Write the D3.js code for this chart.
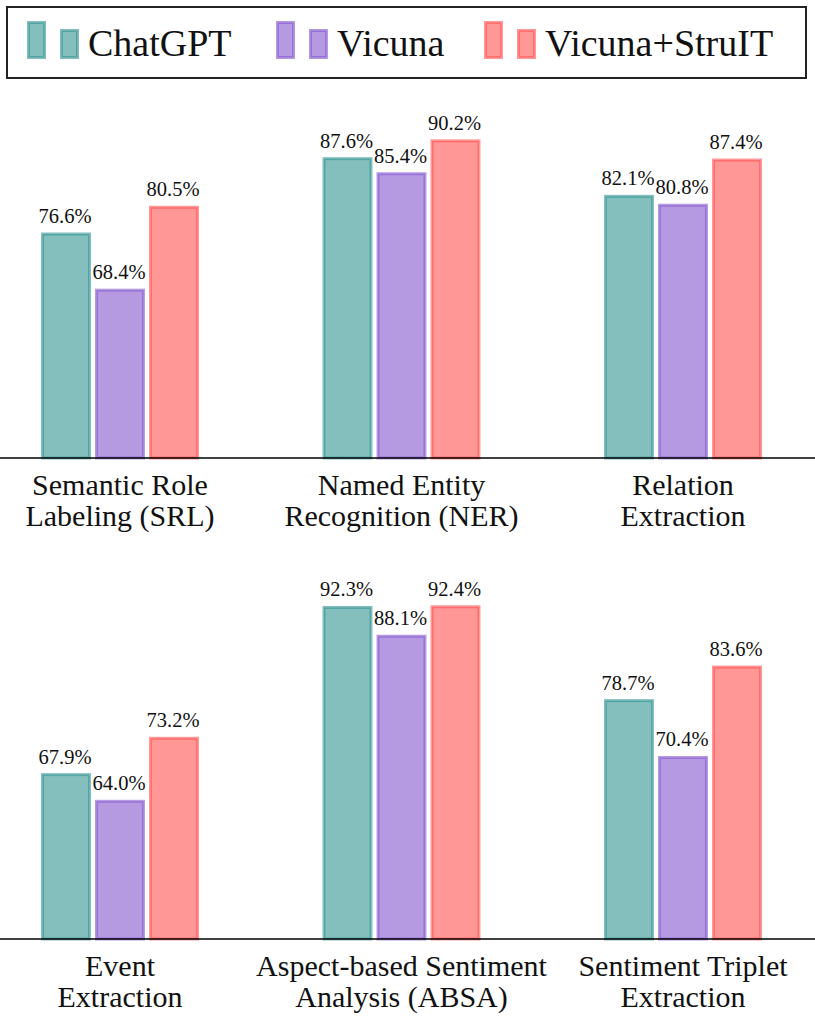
<!DOCTYPE html>
<html>
<head>
<meta charset="utf-8">
<script src="https://cdn.jsdelivr.net/npm/d3@7"></script>
<style>
  body { margin: 0; background: #fff; }
</style>
</head>
<body>
<div id="chart"></div>
<script>
// Data
const models = ["ChatGPT", "Vicuna", "Vicuna+StruIT"];
const tasks = [
  "Semantic Role\nLabeling (SRL)",
  "Named Entity\nRecognition (NER)",
  "Relation\nExtraction",
  "Event\nExtraction",
  "Aspect-based Sentiment\nAnalysis (ABSA)",
  "Sentiment Triplet\nExtraction"
];
const chatgpt = [76.6, 87.6, 82.1, 67.9, 92.3, 78.7];
const vicuna = [68.4, 85.4, 80.8, 64.0, 88.1, 70.4];
const struit = [80.5, 90.2, 87.4, 73.2, 92.4, 83.6];
const colors = ["#329493", "#8457cf", "#ff5252"];

const series = [chatgpt, vicuna, struit];

const width = 815;
const height = 1022;
const baselines = [458, 939];
const serif = '"Liberation Serif"';

const svg = d3.create("svg")
  .attr("width", width)
  .attr("height", height)
  .style("display", "block");

// Outer band scale: 3 tasks per row
const x0 = d3.scaleBand([0, 1, 2], [-20.75, 823.75]);
// Inner band scale: models within a task
const x1 = d3.scaleBand(models, [-81, 81]).paddingInner(0.13).paddingOuter(0.065);

baselines.forEach((base, row) => {
  const y = d3.scaleLinear([43.9, 100], [base, base - 56.1 * 6.85]);
  const g = svg.append("g");

  for (let c = 0; c < 3; c++) {
    const t = row * 3 + c;
    const cx = x0(c) + x0.bandwidth() / 2;

    models.forEach((m, i) => {
      const v = series[i][t];
      const bx = cx + x1(m);
      g.append("rect")
        .attr("x", bx)
        .attr("y", y(v))
        .attr("width", x1.bandwidth())
        .attr("height", base - y(v))
        .attr("fill", colors[i])
        .attr("fill-opacity", 0.6)
        .attr("stroke", colors[i])
        .attr("stroke-opacity", 0.6)
        .attr("stroke-width", 3);

      g.append("text")
        .attr("x", bx + x1.bandwidth() / 2 - 1)
        .attr("y", y(v) - 11)
        .attr("text-anchor", "middle")
        .style("font-family", serif)
        .attr("font-size", 20.5)
        .attr("fill", "#111")
        .text(v.toFixed(1) + "%");
    });

    // task label (two lines)
    const lines = tasks[t].split("\n");
    lines.forEach((ln, k) => {
      g.append("text")
        .attr("x", cx)
        .attr("y", base + 37 + k * 31)
        .attr("text-anchor", "middle")
        .style("font-family", serif)
        .attr("font-size", 30)
        .attr("fill", "#111")
        .text(ln);
    });
  }

  // x axis line
  g.append("line")
    .attr("x1", 0).attr("x2", width)
    .attr("y1", base).attr("y2", base)
    .attr("stroke", "#000")
    .attr("stroke-width", 1.6);
});

// Legend
const legend = svg.append("g");
legend.append("rect")
  .attr("x", 7).attr("y", 7)
  .attr("width", 799).attr("height", 71)
  .attr("fill", "#fff")
  .attr("stroke", "#222")
  .attr("stroke-width", 2);

const legendX = [27, 276, 484];
models.forEach((m, i) => {
  const lx = legendX[i];
  [[0, 21, 38], [33, 29, 30]].forEach(([dx, ty, h]) => {
    legend.append("rect")
      .attr("x", lx + dx + 1.5).attr("y", ty + 1.5)
      .attr("width", 16).attr("height", h - 3)
      .attr("fill", colors[i])
      .attr("fill-opacity", 0.6)
      .attr("stroke", colors[i])
      .attr("stroke-opacity", 0.6)
      .attr("stroke-width", 3);
  });
  legend.append("text")
    .attr("x", lx + 61)
    .attr("y", 56)
    .style("font-family", serif)
    .attr("font-size", 38)
    .attr("fill", "#111")
    .text(m);
});

d3.select("#chart").node().appendChild(svg.node());
</script>
</body>
</html>
